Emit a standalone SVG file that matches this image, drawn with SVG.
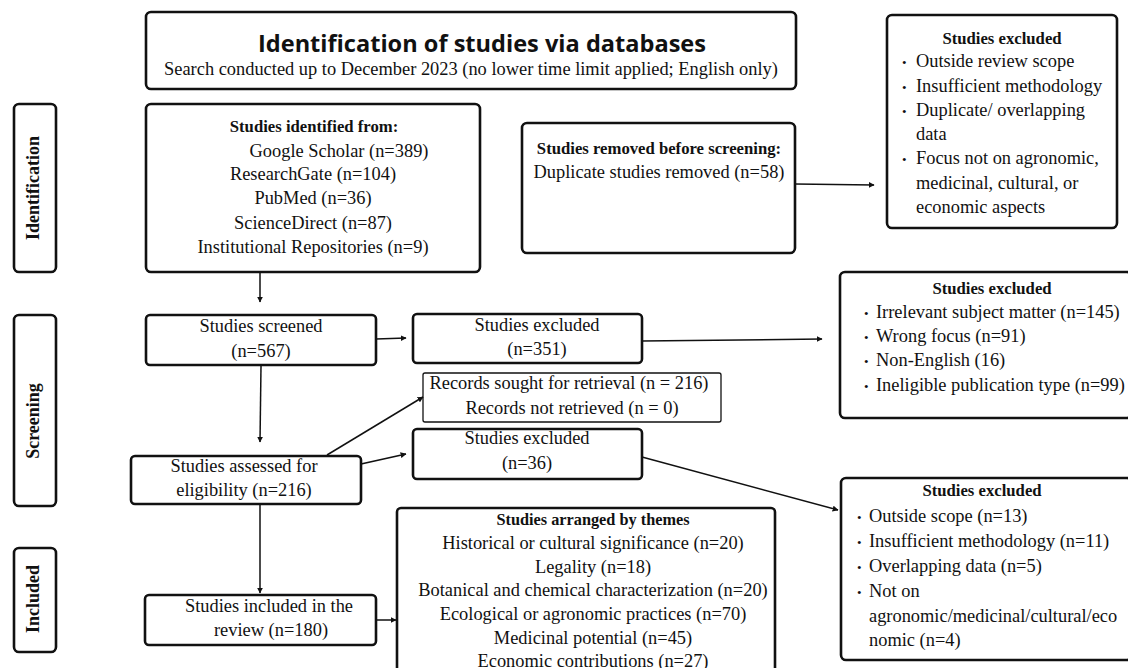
<svg xmlns="http://www.w3.org/2000/svg" width="1128" height="668" viewBox="0 0 1128 668">
<defs>
<marker id="ah" viewBox="0 0 10 10" refX="9" refY="5" markerWidth="6" markerHeight="6" markerUnits="userSpaceOnUse" orient="auto">
<path d="M0,0 L10,5 L0,10 z" fill="#111"/>
</marker>
<style>
.box{fill:#fff;stroke:#111;stroke-width:2.6}
.thin{fill:#fff;stroke:#111;stroke-width:1.3}
.t{font-family:"Liberation Serif","Times New Roman",serif;font-size:18.4px;fill:#111}
.c{text-anchor:middle}
.b{font-weight:bold;font-size:16.7px}
.bu{font-size:13px}
.h{font-family:"Open Sans",Lato,sans-serif;font-weight:bold;font-size:23px;fill:#111;text-anchor:middle}
.side{font-family:"Liberation Serif","Times New Roman",serif;font-size:18px;font-weight:bold;fill:#111;text-anchor:middle}
.ln{stroke:#111;stroke-width:1.5;fill:none}
</style>
</defs>
<rect width="1128" height="668" fill="#fff"/>

<g id="title">
<rect class="box" x="146" y="12" width="650" height="77" rx="5"/>
<text class="h" x="482" y="52" textLength="448" lengthAdjust="spacingAndGlyphs">Identification of studies via databases</text>
<text class="t c" x="471" y="75">Search conducted up to December 2023 (no lower time limit applied; English only)</text>
</g>

<g id="label-identification">
<rect class="box" x="14" y="104" width="42" height="168" rx="5"/>
<text class="side" transform="translate(39,188) rotate(-90)">Identification</text>
</g>
<g id="label-screening">
<rect class="box" x="14" y="315" width="42" height="191" rx="5"/>
<text class="side" transform="translate(39,421) rotate(-90)">Screening</text>
</g>
<g id="label-included">
<rect class="box" x="14" y="548" width="42" height="104" rx="5"/>
<text class="side" transform="translate(39,599) rotate(-90)">Included</text>
</g>

<g id="identified">
<rect class="box" x="146" y="104" width="334" height="168" rx="5"/>
<text class="t c b" x="314" y="132">Studies identified from:</text>
<text class="t c" x="339" y="157">Google Scholar (n=389)</text>
<text class="t c" x="313" y="180">ResearchGate (n=104)</text>
<text class="t c" x="313" y="204">PubMed (n=36)</text>
<text class="t c" x="313" y="229">ScienceDirect (n=87)</text>
<text class="t c" x="313" y="253">Institutional Repositories (n=9)</text>
</g>

<g id="removed">
<rect class="box" x="522" y="123" width="273" height="130" rx="5"/>
<text class="t c b" x="659" y="154">Studies removed before screening:</text>
<text class="t c" x="659" y="178">Duplicate studies removed (n=58)</text>
</g>

<g id="excluded-1">
<rect class="box" x="887" y="15" width="230" height="213" rx="5"/>
<text class="t c b" x="1002" y="44">Studies excluded</text>
<g class="t">
<text class="bu" x="902" y="67">•</text><text x="916" y="67">Outside review scope</text>
<text class="bu" x="902" y="92">•</text><text x="916" y="92">Insufficient methodology</text>
<text class="bu" x="902" y="116">•</text><text x="916" y="116">Duplicate/ overlapping</text>
<text x="916" y="140">data</text>
<text class="bu" x="902" y="164">•</text><text x="916" y="164">Focus not on agronomic,</text>
<text x="916" y="189">medicinal, cultural, or</text>
<text x="916" y="213">economic aspects</text>
</g>
</g>

<g id="screened">
<rect class="box" x="146" y="315" width="230" height="50" rx="4"/>
<text class="t c" x="261" y="332">Studies screened</text>
<text class="t c" x="261" y="357">(n=567)</text>
</g>

<g id="excluded-351">
<rect class="box" x="413" y="314" width="229" height="49" rx="4"/>
<text class="t c" x="537" y="331">Studies excluded</text>
<text class="t c" x="537" y="355">(n=351)</text>
</g>

<g id="excluded-2">
<rect class="box" x="840" y="272" width="292" height="146" rx="5"/>
<text class="t c b" x="992" y="294">Studies excluded</text>
<g class="t">
<text class="bu" x="864" y="318">•</text><text x="876" y="318">Irrelevant subject matter (n=145)</text>
<text class="bu" x="864" y="342">•</text><text x="876" y="342">Wrong focus (n=91)</text>
<text class="bu" x="864" y="366">•</text><text x="876" y="366">Non-English (16)</text>
<text class="bu" x="864" y="391">•</text><text x="876" y="391">Ineligible publication type (n=99)</text>
</g>
</g>

<g id="records">
<rect class="thin" x="423" y="373" width="298" height="49" rx="2"/>
<text class="t c" x="569" y="389">Records sought for retrieval (n = 216)</text>
<text class="t c" x="572" y="414">Records not retrieved (n = 0)</text>
</g>

<g id="assessed">
<rect class="box" x="131" y="456" width="230" height="48" rx="4"/>
<text class="t c" x="244" y="472">Studies assessed for</text>
<text class="t c" x="244" y="496">eligibility (n=216)</text>
</g>

<g id="excluded-36">
<rect class="box" x="413" y="429" width="229" height="50" rx="4"/>
<text class="t c" x="527" y="444">Studies excluded</text>
<text class="t c" x="527" y="469">(n=36)</text>
</g>

<g id="excluded-3">
<rect class="box" x="841" y="478" width="291" height="182" rx="5"/>
<text class="t c b" x="982" y="496">Studies excluded</text>
<g class="t">
<text class="bu" x="857" y="522">•</text><text x="869" y="522">Outside scope (n=13)</text>
<text class="bu" x="857" y="547">•</text><text x="869" y="547">Insufficient methodology (n=11)</text>
<text class="bu" x="857" y="572">•</text><text x="869" y="572">Overlapping data (n=5)</text>
<text class="bu" x="857" y="597">•</text><text x="869" y="597">Not on</text>
<text x="869" y="622">agronomic/medicinal/cultural/eco</text>
<text x="869" y="646">nomic (n=4)</text>
</g>
</g>

<g id="included">
<rect class="box" x="145" y="595" width="231" height="50" rx="4"/>
<text class="t c" x="269" y="612">Studies included in the</text>
<text class="t c" x="271" y="636">review (n=180)</text>
</g>

<g id="themes">
<rect class="box" x="397" y="508" width="378" height="175" rx="4"/>
<text class="t c b" x="593" y="525" style="font-size:16.3px">Studies arranged by themes</text>
<text class="t c" x="593" y="549">Historical or cultural significance (n=20)</text>
<text class="t c" x="593" y="573">Legality (n=18)</text>
<text class="t c" x="593" y="596">Botanical and chemical characterization (n=20)</text>
<text class="t c" x="593" y="620">Ecological or agronomic practices (n=70)</text>
<text class="t c" x="593" y="644">Medicinal potential (n=45)</text>
<text class="t c" x="593" y="667">Economic contributions (n=27)</text>
</g>

<g id="connectors">
<line class="ln" x1="260" y1="272" x2="260" y2="302" marker-end="url(#ah)"/>
<line class="ln" x1="795" y1="184" x2="874" y2="185" marker-end="url(#ah)"/>
<line class="ln" x1="376" y1="339" x2="406" y2="338" marker-end="url(#ah)"/>
<line class="ln" x1="642" y1="341" x2="822" y2="339" marker-end="url(#ah)"/>
<line class="ln" x1="261" y1="366" x2="260" y2="442" marker-end="url(#ah)"/>
<line class="ln" x1="327" y1="455" x2="423" y2="397" marker-end="url(#ah)"/>
<line class="ln" x1="361" y1="464" x2="406" y2="454" marker-end="url(#ah)"/>
<line class="ln" x1="642" y1="457" x2="838" y2="510" marker-end="url(#ah)"/>
<line class="ln" x1="260" y1="504" x2="260" y2="593" marker-end="url(#ah)"/>
<line class="ln" x1="376" y1="620" x2="396" y2="620" marker-end="url(#ah)"/>
</g>
</svg>
